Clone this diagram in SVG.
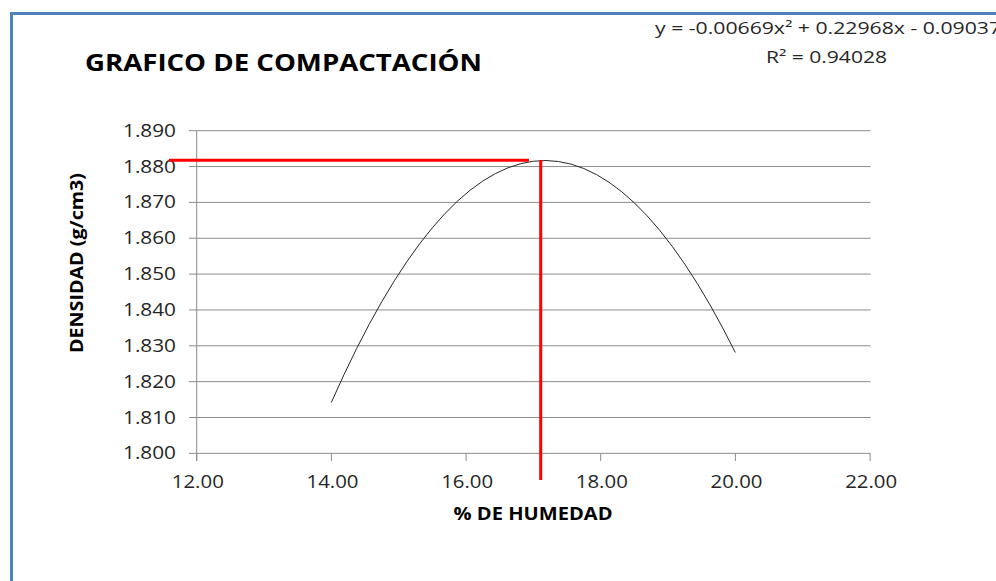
<svg xmlns="http://www.w3.org/2000/svg" width="996" height="581" viewBox="0 0 996 581">
<style>
.grid{stroke:#8c8c8c;stroke-width:1;fill:none}
.tick{stroke:#8c8c8c;stroke-width:1}
.lbl{font-family:"Open Sans","Liberation Sans",Arial,sans-serif;font-size:17.5px;fill:#262626}
.xl{text-anchor:middle}
.yl{text-anchor:end}
.ttl{font-family:"Open Sans","Liberation Sans",Arial,sans-serif;font-weight:bold;fill:#000}
.eq{font-family:"Open Sans","Liberation Sans",Arial,sans-serif;font-size:16px;fill:#262626}
.red{stroke:#ff0000;stroke-width:3;fill:none}
</style>
<rect width="996" height="581" fill="#ffffff"/>
<g id="frame">
<line x1="10" y1="13.5" x2="996" y2="13.5" stroke="#4f81bd" stroke-width="3"/>
<line x1="11.5" y1="12" x2="11.5" y2="581" stroke="#4f81bd" stroke-width="3"/>
</g>
<g id="title">
<text class="ttl" x="85" y="71" font-size="24" textLength="397" lengthAdjust="spacingAndGlyphs">GRAFICO DE COMPACTACIÓN</text>
</g>
<g id="equation">
<text class="eq" x="655" y="34" textLength="346" lengthAdjust="spacingAndGlyphs">y = -0.00669x² + 0.22968x - 0.09037</text>
<text class="eq" x="766" y="63" textLength="121" lengthAdjust="spacingAndGlyphs">R² = 0.94028</text>
</g>
<g id="gridlines">
<line class="grid" x1="196.7" y1="130.7" x2="870.5" y2="130.7"/>
<line class="grid" x1="196.7" y1="166.55" x2="870.5" y2="166.55"/>
<line class="grid" x1="196.7" y1="202.4" x2="870.5" y2="202.4"/>
<line class="grid" x1="196.7" y1="238.25" x2="870.5" y2="238.25"/>
<line class="grid" x1="196.7" y1="274.1" x2="870.5" y2="274.1"/>
<line class="grid" x1="196.7" y1="309.95" x2="870.5" y2="309.95"/>
<line class="grid" x1="196.7" y1="345.8" x2="870.5" y2="345.8"/>
<line class="grid" x1="196.7" y1="381.65" x2="870.5" y2="381.65"/>
<line class="grid" x1="196.7" y1="417.5" x2="870.5" y2="417.5"/>
<line class="grid" x1="196.7" y1="453.35" x2="870.5" y2="453.35"/>
</g>
<g id="y-axis">
<line class="grid" x1="196.7" y1="130.7" x2="196.7" y2="461"/>
<line class="tick" x1="189" y1="130.7" x2="196.7" y2="130.7"/>
<line class="tick" x1="189" y1="166.55" x2="196.7" y2="166.55"/>
<line class="tick" x1="189" y1="202.4" x2="196.7" y2="202.4"/>
<line class="tick" x1="189" y1="238.25" x2="196.7" y2="238.25"/>
<line class="tick" x1="189" y1="274.1" x2="196.7" y2="274.1"/>
<line class="tick" x1="189" y1="309.95" x2="196.7" y2="309.95"/>
<line class="tick" x1="189" y1="345.8" x2="196.7" y2="345.8"/>
<line class="tick" x1="189" y1="381.65" x2="196.7" y2="381.65"/>
<line class="tick" x1="189" y1="417.5" x2="196.7" y2="417.5"/>
<line class="tick" x1="189" y1="453.35" x2="196.7" y2="453.35"/>
<text class="lbl yl" x="176" y="136.7" textLength="53" lengthAdjust="spacingAndGlyphs">1.890</text>
<text class="lbl yl" x="176" y="172.55" textLength="53" lengthAdjust="spacingAndGlyphs">1.880</text>
<text class="lbl yl" x="176" y="208.4" textLength="53" lengthAdjust="spacingAndGlyphs">1.870</text>
<text class="lbl yl" x="176" y="244.25" textLength="53" lengthAdjust="spacingAndGlyphs">1.860</text>
<text class="lbl yl" x="176" y="280.1" textLength="53" lengthAdjust="spacingAndGlyphs">1.850</text>
<text class="lbl yl" x="176" y="315.95" textLength="53" lengthAdjust="spacingAndGlyphs">1.840</text>
<text class="lbl yl" x="176" y="351.8" textLength="53" lengthAdjust="spacingAndGlyphs">1.830</text>
<text class="lbl yl" x="176" y="387.65" textLength="53" lengthAdjust="spacingAndGlyphs">1.820</text>
<text class="lbl yl" x="176" y="423.5" textLength="53" lengthAdjust="spacingAndGlyphs">1.810</text>
<text class="lbl yl" x="176" y="459.35" textLength="53" lengthAdjust="spacingAndGlyphs">1.800</text>
<text class="ttl" transform="translate(83,263) rotate(-90)" text-anchor="middle" font-size="18.5" textLength="180" lengthAdjust="spacingAndGlyphs">DENSIDAD (g/cm3)</text>
</g>
<g id="x-axis">
<line class="tick" x1="196.7" y1="453.35" x2="196.7" y2="461"/>
<line class="tick" x1="331.4" y1="453.35" x2="331.4" y2="461"/>
<line class="tick" x1="466.1" y1="453.35" x2="466.1" y2="461"/>
<line class="tick" x1="600.7" y1="453.35" x2="600.7" y2="461"/>
<line class="tick" x1="735.4" y1="453.35" x2="735.4" y2="461"/>
<line class="tick" x1="870.1" y1="453.35" x2="870.1" y2="461"/>
<text class="lbl xl" x="197.8" y="487.7" textLength="52" lengthAdjust="spacingAndGlyphs">12.00</text>
<text class="lbl xl" x="332.5" y="487.7" textLength="52" lengthAdjust="spacingAndGlyphs">14.00</text>
<text class="lbl xl" x="467.2" y="487.7" textLength="52" lengthAdjust="spacingAndGlyphs">16.00</text>
<text class="lbl xl" x="601.8" y="487.7" textLength="52" lengthAdjust="spacingAndGlyphs">18.00</text>
<text class="lbl xl" x="736.5" y="487.7" textLength="52" lengthAdjust="spacingAndGlyphs">20.00</text>
<text class="lbl xl" x="871.2" y="487.7" textLength="52" lengthAdjust="spacingAndGlyphs">22.00</text>
<text class="ttl" x="533" y="520" text-anchor="middle" font-size="17.5" textLength="159" lengthAdjust="spacingAndGlyphs">% DE HUMEDAD</text>
</g>
<g id="connectors">
<path id="curve" d="M331.3,402.5 Q533.3,-55 735.3,352.5" fill="none" stroke="#262626" stroke-width="1"/>
<line class="red" x1="169" y1="160.3" x2="529" y2="160.3"/>
<line class="red" x1="540.7" y1="160" x2="540.7" y2="480"/>
</g>
</svg>
